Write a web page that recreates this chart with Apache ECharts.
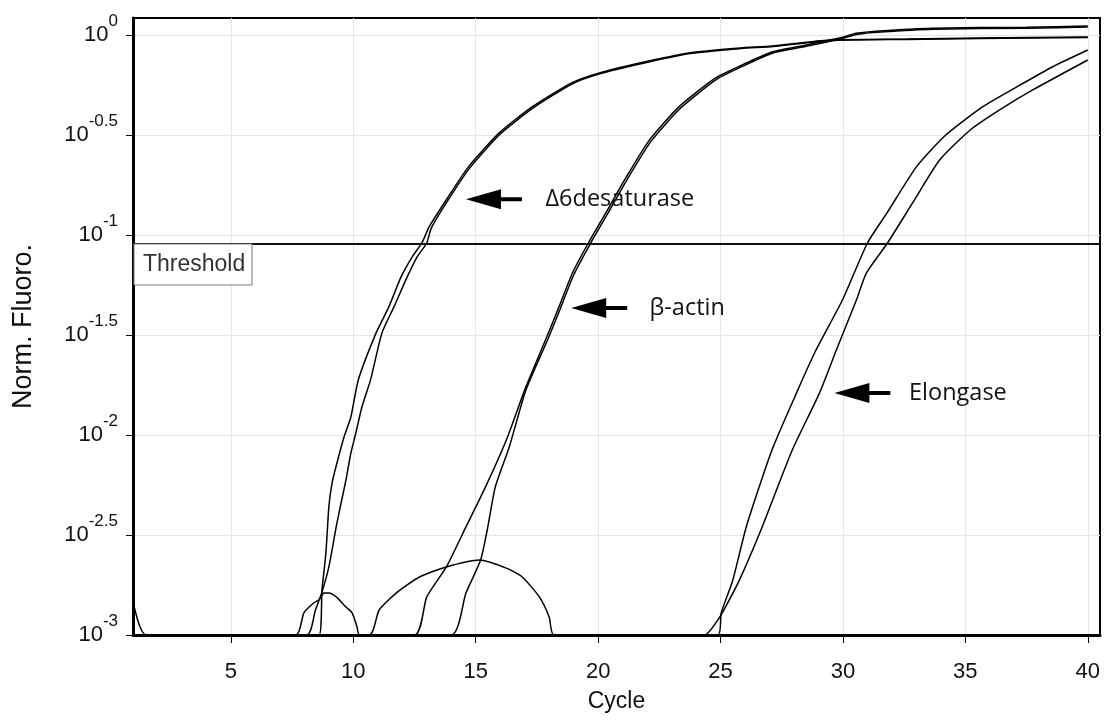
<!DOCTYPE html>
<html>
<head>
<meta charset="utf-8">
<script src="https://cdn.jsdelivr.net/npm/echarts@6/dist/echarts.min.js"></script>
<style>
  html, body { margin: 0; padding: 0; background: #fff; }
  #chart { width: 1115px; height: 722px; }
</style>
</head>
<body>
<div id="chart"></div>
<script>
// Axis ticks
const cycleTicks = [5, 10, 15, 20, 25, 30, 35, 40];
const fluoroTickExponents = [-3, -2.5, -2, -1.5, -1, -0.5, 0];
const thresholdValue = 0.0912;

// Amplification curves: [cycle, normalised fluorescence]
const desatRep1 = [[1, 0.001], [8.6, 0.001], [8.72, 0.00168], [8.88, 0.00257], [9.0, 0.00437], [9.13, 0.00575], [9.33, 0.00724], [9.62, 0.00977], [9.9, 0.0123], [10.2, 0.0188], [10.93, 0.0324], [11.45, 0.0437], [11.95, 0.0617], [12.4, 0.0776], [12.8, 0.0912], [13.1, 0.110], [13.8, 0.150], [14.7, 0.219], [15.96, 0.324], [17.3, 0.437], [18.9, 0.575], [20.05, 0.646], [21.7, 0.724], [23.7, 0.813], [25.8, 0.861], [27.1, 0.881], [29.45, 0.944], [32.6, 0.955], [35.6, 0.966], [40, 0.977]];
const desatRep2 = [[1, 0.001], [8.1, 0.001], [8.45, 0.00133], [8.72, 0.00164], [9.0, 0.00219], [9.3, 0.00347], [9.5, 0.00457], [9.7, 0.00596], [9.9, 0.00813], [10.1, 0.0102], [10.35, 0.0138], [10.7, 0.0188], [11.17, 0.0324], [11.66, 0.0437], [12.2, 0.0617], [12.6, 0.0776], [13.0, 0.0912], [13.18, 0.108], [13.85, 0.148], [14.75, 0.216], [16.0, 0.320], [17.35, 0.432], [18.95, 0.570], [20.1, 0.641], [21.75, 0.718], [23.75, 0.807], [25.85, 0.855], [27.15, 0.876], [29.5, 0.938], [32.6, 0.950], [35.6, 0.961], [40, 0.972]];
const actinRep1 = [[1, 0.001], [12.5, 0.001], [13.0, 0.00155], [13.8, 0.00219], [14.6, 0.00347], [15.4, 0.00550], [16.25, 0.00944], [17.05, 0.0174], [17.9, 0.0309], [18.4, 0.0437], [18.95, 0.0646], [19.6, 0.0912], [20.45, 0.138], [21.15, 0.195], [22.1, 0.299], [23.3, 0.437], [24.8, 0.610], [26.05, 0.724], [27.1, 0.822], [28.5, 0.891], [29.85, 0.966], [30.55, 1.019], [31.5, 1.047], [33.65, 1.081], [37.5, 1.094], [40, 1.109]];
const actinRep2 = [[1, 0.001], [14.0, 0.001], [14.6, 0.00162], [15.2, 0.00237], [15.47, 0.00335], [15.8, 0.00550], [16.37, 0.00871], [17.05, 0.0168], [17.95, 0.0302], [18.45, 0.0427], [19.0, 0.0631], [19.65, 0.0891], [20.5, 0.135], [21.2, 0.191], [22.15, 0.293], [23.35, 0.429], [24.85, 0.602], [26.1, 0.716], [27.15, 0.813], [28.55, 0.881], [29.9, 0.955], [30.6, 1.008], [31.55, 1.035], [33.7, 1.069], [37.5, 1.081], [40, 1.096]];
const elongRep1 = [[1, 0.001], [24.9, 0.001], [25.03, 0.00129], [25.5, 0.00188], [26.05, 0.00347], [27.1, 0.00841], [28.1, 0.0162], [28.9, 0.0266], [29.98, 0.0473], [31.0, 0.0912], [31.8, 0.129], [33.0, 0.219], [34.2, 0.316], [35.7, 0.437], [37.1, 0.550], [38.55, 0.692], [40, 0.841]];
const elongRep2 = [[1, 0.001], [24.35, 0.001], [24.85, 0.00117], [25.2, 0.00138], [25.77, 0.00188], [26.7, 0.00347], [27.93, 0.00841], [29.04, 0.0162], [29.73, 0.0266], [30.55, 0.0473], [30.96, 0.0646], [31.82, 0.0912], [32.85, 0.145], [33.95, 0.237], [35.2, 0.335], [36.4, 0.422], [37.75, 0.531], [40, 0.750]];

// Baseline noise traces (no amplification)
const noiseA = [[1, 0.00148], [1.55, 0.001], [40, 0.001]];
const noiseB = [[1, 0.001], [7.66, 0.001], [7.98, 0.00129], [8.39, 0.00145], [8.6, 0.0015], [8.8, 0.00162], [9.0, 0.00162], [9.3, 0.00155], [9.7, 0.00138], [9.95, 0.00129], [10.15, 0.0011], [10.25, 0.001], [40, 0.001]];
const noiseC = [[1, 0.001], [10.65, 0.001], [11.05, 0.00133], [11.75, 0.00162], [12.7, 0.00195], [13.8, 0.00219], [15.15, 0.00237], [16.25, 0.00216], [16.9, 0.00195], [17.6, 0.00155], [18.0, 0.00123], [18.2, 0.001], [40, 0.001]];

// Gene labels with arrows: arrow tip and text start, in [cycle, fluorescence]
const geneNames = ['\u03946desaturase', '\u03b2-actin', 'Elongase'];
const arrowTips = [[14.6, 0.151], [18.9, 0.0432], [29.65, 0.0162]];
const labelStarts = [[17.85, 0.151], [22.1, 0.0432], [32.7, 0.0162]];

const traces = [desatRep1, desatRep2, actinRep1, actinRep2, elongRep1, elongRep2, noiseA, noiseB, noiseC];

const chart = echarts.init(document.getElementById('chart'), null, { renderer: 'canvas' });
const axisFont = 'Liberation Sans, Arial, sans-serif';
const fluoroTickValues = fluoroTickExponents.map(e => Math.pow(10, e));

const option = {
  animation: false,
  backgroundColor: '#fff',
  grid: {
    left: 133, top: 18, right: 15, bottom: 87,
    show: true, borderColor: '#000', borderWidth: 2
  },
  xAxis: {
    type: 'value',
    min: 1, max: 40.5,
    name: 'Cycle',
    nameLocation: 'middle',
    nameGap: 55,
    nameTextStyle: { fontFamily: axisFont, fontSize: 23, color: '#111' },
    axisLine: { show: true, onZero: false, lineStyle: { color: '#000', width: 3 } },
    axisTick: { show: true, customValues: cycleTicks, length: 8, lineStyle: { color: '#000', width: 1 } },
    axisLabel: { customValues: cycleTicks, margin: 26, fontFamily: axisFont, fontSize: 22, color: '#111' },
    splitLine: { show: true, lineStyle: { color: '#e6e6e6', width: 1 } }
  },
  yAxis: {
    type: 'log',
    logBase: 10,
    min: 0.001, max: 1.216,
    name: 'Norm. Fluoro.',
    nameLocation: 'middle',
    nameGap: 96,
    nameRotate: 90,
    nameTextStyle: { fontFamily: axisFont, fontSize: 27, color: '#111' },
    axisLine: { show: true, lineStyle: { color: '#000', width: 3 } },
    axisTick: { show: true, customValues: fluoroTickValues, length: 7, lineStyle: { color: '#000', width: 1 } },
    axisLabel: {
      customValues: fluoroTickValues,
      margin: 15,
      formatter: v => {
        const e = Math.round(Math.log10(v) * 2) / 2;
        return '{b|10}{s|' + (e === 0 ? '0' : String(e)) + '}';
      },
      rich: {
        b: { fontFamily: axisFont, fontSize: 22, color: '#111' },
        s: { fontFamily: axisFont, fontSize: 17, color: '#111', padding: [0, 0, 27, 0] }
      }
    },
    splitLine: { show: true, lineStyle: { color: '#e6e6e6', width: 1 } }
  },
  series: traces.map((d, i) => ({
    type: 'line',
    data: d,
    showSymbol: false,
    silent: true,
    smooth: 0.2,
    lineStyle: { color: '#000', width: 1.5 },
    z: 3,
    markLine: i === 0 ? {
      silent: true,
      symbol: 'none',
      label: { show: false },
      lineStyle: { color: '#111', width: 2, type: 'solid' },
      data: [{ yAxis: thresholdValue }]
    } : undefined
  }))
};

chart.setOption(option);

// Annotations placed from data coordinates
const px = p => chart.convertToPixel({ gridIndex: 0 }, p);
const graphics = [];
const thrLeft = px([1, thresholdValue]);
graphics.push({
  type: 'rect',
  shape: { x: thrLeft[0] + 1, y: thrLeft[1] + 1, width: 118, height: 41 },
  style: { fill: '#fff', stroke: '#777', lineWidth: 1 },
  z: 10
});
graphics.push({
  type: 'text',
  style: { text: 'Threshold', x: thrLeft[0] + 10, y: thrLeft[1] + 22, fontFamily: axisFont, fontSize: 23, fill: '#333', verticalAlign: 'middle' },
  z: 11
});
geneNames.forEach((name, i) => {
  const t = px(arrowTips[i]);
  const s = px(labelStarts[i]);
  graphics.push({
    type: 'polygon',
    shape: { points: [[t[0], t[1]], [t[0] + 35, t[1] - 10], [t[0] + 35, t[1] - 2], [t[0] + 56, t[1] - 2], [t[0] + 56, t[1] + 2], [t[0] + 35, t[1] + 2], [t[0] + 35, t[1] + 10]] },
    style: { fill: '#000' },
    z: 10
  });
  graphics.push({
    type: 'text',
    style: { text: name, x: s[0], y: s[1], fontFamily: 'Open Sans, Noto Sans, sans-serif', fontSize: 23.5, fill: '#111', verticalAlign: 'middle' },
    z: 10
  });
});
chart.setOption({ graphic: graphics });
</script>
</body>
</html>
